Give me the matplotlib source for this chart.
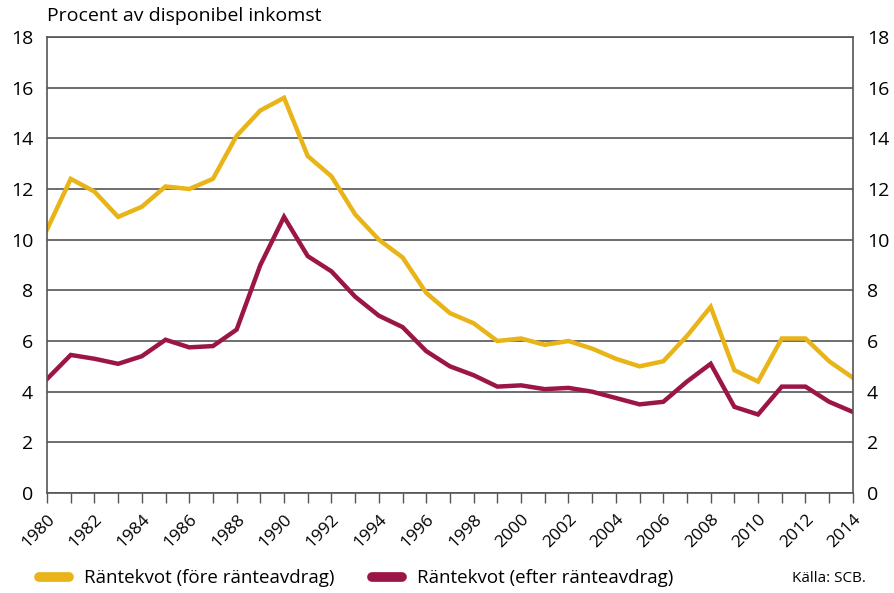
import numpy as np
from matplotlib import pyplot as plt
from matplotlib.lines import Line2D

years = list(range(1980, 2015))
fore = [10.4, 12.4, 11.9, 10.9, 11.3, 12.1, 12.0, 12.4, 14.1, 15.1,
        15.6, 13.3, 12.5, 11.0, 10.0, 9.3, 7.9, 7.1, 6.7, 6.0,
        6.1, 5.85, 6.0, 5.7, 5.3, 5.0, 5.2, 6.2, 7.35, 4.85,
        4.4, 6.1, 6.1, 5.2, 4.55]
efter = [4.5, 5.45, 5.3, 5.1, 5.4, 6.05, 5.75, 5.8, 6.45, 9.0,
         10.9, 9.35, 8.75, 7.75, 7.0, 6.55, 5.6, 5.0, 4.65, 4.2,
         4.25, 4.1, 4.15, 4.0, 3.75, 3.5, 3.6, 4.4, 5.1, 3.4,
         3.1, 4.2, 4.2, 3.6, 3.2]
yticks = list(range(0, 19, 2))
xticks = list(range(1980, 2015, 2))

yellow = '#e8b418'
red = '#9b1646'
grid_col = '#555555'

plt.rcParams['font.family'] = ['Open Sans', 'DejaVu Sans']

fig = plt.figure(figsize=(8.94, 5.93), dpi=100)
ax = fig.add_axes([0.0526, 0.1686, 0.9014, 0.769])

ax.plot(years, fore, color=yellow, lw=3.2, solid_joinstyle='miter')
ax.plot(years, efter, color=red, lw=3.2, solid_joinstyle='miter')

ax.set_xlim(1980, 2014)
ax.set_ylim(0, 18)
ax.set_yticks(yticks)
ax.set_xticks(xticks)
ax.set_xticks(years, minor=True)
ax.set_xticklabels([str(y) for y in xticks], rotation=45, ha='right',
                   rotation_mode='anchor', fontsize=12.5)
ax.tick_params(axis='x', which='both', length=7, width=1, color=grid_col,
               direction='out', pad=6)
ax.tick_params(axis='y', length=0, labelsize=14, pad=10,
               labelleft=True, labelright=True)

ax.grid(axis='y', color=grid_col, lw=1.2)
ax.set_axisbelow(True)
for s in ax.spines.values():
    s.set_color(grid_col)
    s.set_linewidth(1.2)

fig.text(0.053, 0.958, 'Procent av disponibel inkomst', fontsize=14,
         va='bottom', ha='left')

handles = [Line2D([0], [0], color=yellow, lw=7, solid_capstyle='round'),
           Line2D([0], [0], color=red, lw=7, solid_capstyle='round')]
fig.legend(handles, ['Räntekvot (före ränteavdrag)', 'Räntekvot (efter ränteavdrag)'],
           loc='center left', bbox_to_anchor=(0.025, 0.025), ncol=2,
           frameon=False, fontsize=13.5, handlelength=1.6, columnspacing=2.0,
           handletextpad=0.8)
fig.text(0.968, 0.025, 'Källa: SCB.', fontsize=11, ha='right', va='center')

fig.savefig('out.png', dpi=100)
